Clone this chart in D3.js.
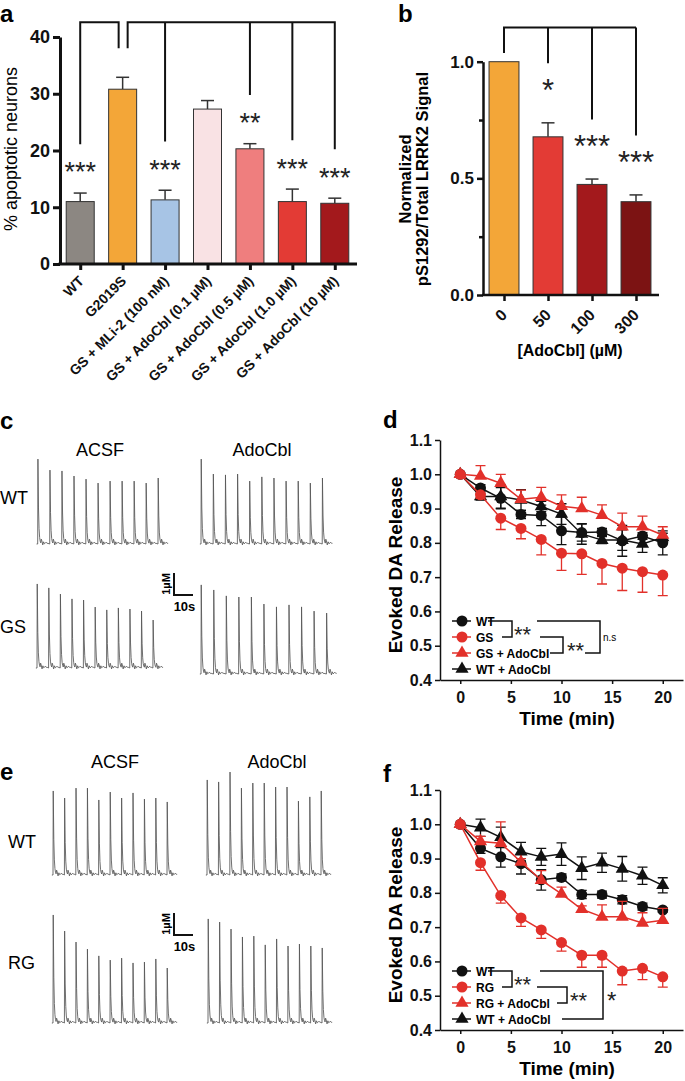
<!DOCTYPE html>
<html lang="en">
<head>
  <meta charset="UTF-8">
  <title>AdoCbl LRRK2 figure</title>
  <script src="https://d3js.org/d3.v7.min.js"></script>
  <style>
    body { margin: 0; background: #fff; }
    svg { font-family: "Liberation Sans", Arial, sans-serif; }
    .axis path, .axis line { stroke: #111; }
    .axis text { font-weight: bold; fill: #111; }
  </style>
</head>
<body>
<svg id="fig" width="685" height="1081"></svg>
<script>
  // ---------- data ----------
  // panel a
  const catsA = ["WT", "G2019S", "GS + MLi-2 (100 nM)", "GS + AdoCbl (0.1 µM)",
                 "GS + AdoCbl (0.5 µM)", "GS + AdoCbl (1.0 µM)", "GS + AdoCbl (10 µM)"];
  const meanA = [11.0, 30.8, 11.3, 27.3, 20.3, 11.0, 10.7];
  const semA  = [1.5, 2.1, 1.7, 1.5, 0.9, 2.2, 0.9];
  const starsA = ["***", "", "***", "", "**", "***", "***"];
  const ticksA = [0, 10, 20, 30, 40];
  const colorsA = ["#8c8782", "#f3a638", "#a7c4e5", "#f9e2e4", "#ef7e7e", "#e33b35", "#a3191c"];

  // panel b
  const catsB = ["0", "50", "100", "300"];
  const meanB = [1.0, 0.678, 0.474, 0.40];
  const semB  = [0, 0.06, 0.023, 0.029];
  const starsB = ["", "*", "***", "***"];
  const ticksB = [0, 0.5, 1.0];
  const minorB = [0.25, 0.75];
  const colorsB = ["#f3a638", "#e33b35", "#a3191c", "#7c1313"];

  // panels c / e : peak amplitudes (µM) of the evoked release traces
  const cWT_acsf = [3.86, 3.36, 3.32, 3.09, 2.95, 2.77, 2.86, 2.86, 2.86, 2.77, 3.0];
  const cWT_ado  = [3.86, 3.18, 3.14, 3.18, 2.86, 3.05, 3.0, 2.86, 2.86, 2.77, 3.0];
  const cGS_acsf = [3.82, 3.64, 3.36, 3.14, 3.09, 2.77, 2.64, 2.73, 2.68, 2.59, 2.18];
  const cGS_ado  = [4.05, 3.82, 3.55, 3.5, 3.5, 3.18, 3.05, 3.14, 3.05, 2.86, 2.77];
  const eWT_acsf = [3.82, 3.5, 3.95, 3.95, 3.41, 3.77, 3.5, 3.73, 3.45, 3.5, 3.32];
  const eWT_ado  = [4.32, 4.23, 4.68, 3.95, 4.18, 4.18, 4.0, 4.0, 3.36, 3.55, 3.82];
  const eRG_acsf = [4.91, 4.18, 3.68, 3.36, 3.05, 2.86, 2.95, 2.73, 2.77, 2.91, 2.5];
  const eRG_ado  = [4.73, 4.59, 4.27, 3.91, 3.95, 3.55, 3.82, 3.5, 3.59, 3.5, 3.41];

  // panels d / f
  const timeMin = [0, 2, 4, 6, 8, 10, 12, 14, 16, 18, 20];
  const timeTicks = [0, 5, 10, 15, 20];
  const releaseTicks = [0.4, 0.5, 0.6, 0.7, 0.8, 0.9, 1.0, 1.1];

  const dWT       = [1.0, 0.96, 0.93, 0.883, 0.88, 0.835, 0.83, 0.832, 0.806, 0.82, 0.80];
  const dWTerr    = [0, 0.01, 0.031, 0.012, 0.03, 0.04, 0.025, 0.01, 0.045, 0.01, 0.035];
  const dGS       = [1.0, 0.94, 0.872, 0.842, 0.81, 0.77, 0.768, 0.74, 0.726, 0.716, 0.706];
  const dGSerr    = [0, 0.01, 0.033, 0.03, 0.045, 0.05, 0.06, 0.06, 0.065, 0.06, 0.06];
  const dGSAdo    = [1.0, 0.995, 0.974, 0.927, 0.933, 0.907, 0.90, 0.881, 0.847, 0.847, 0.823];
  const dGSAdoErr = [0, 0.03, 0.026, 0.027, 0.029, 0.033, 0.033, 0.03, 0.04, 0.031, 0.024];
  const dWTAdo    = [1.0, 0.935, 0.935, 0.925, 0.906, 0.884, 0.826, 0.808, 0.808, 0.797, 0.816];
  const dWTAdoErr = [0, 0.01, 0.034, 0.03, 0.015, 0.03, 0.03, 0.01, 0.03, 0.025, 0.012];

  const fWT       = [1.0, 0.93, 0.905, 0.885, 0.838, 0.845, 0.795, 0.795, 0.78, 0.76, 0.75];
  const fWTerr    = [0, 0.015, 0.03, 0.03, 0.03, 0.01, 0.012, 0.01, 0.012, 0.01, 0.006];
  const fRG       = [1.0, 0.888, 0.792, 0.727, 0.692, 0.655, 0.618, 0.618, 0.572, 0.58, 0.555];
  const fRGerr    = [0, 0.022, 0.022, 0.025, 0.025, 0.025, 0.035, 0.035, 0.04, 0.033, 0.03];
  const fRGAdo    = [1.0, 0.95, 0.945, 0.89, 0.837, 0.797, 0.752, 0.73, 0.73, 0.712, 0.72];
  const fRGAdoErr = [0, 0.015, 0.062, 0.01, 0.028, 0.02, 0.01, 0.035, 0.045, 0.03, 0.035];
  const fWTAdo    = [1.0, 0.99, 0.962, 0.92, 0.905, 0.913, 0.872, 0.888, 0.87, 0.85, 0.822];
  const fWTAdoErr = [0, 0.025, 0.03, 0.027, 0.025, 0.033, 0.033, 0.028, 0.036, 0.025, 0.022];

  const RED = "#e2302a", BLACK = "#111";
  const svg = d3.select("#fig");

  // star text helper: y is the visual centre of the asterisks
  function stars(g, x, y, str, size, anchor) {
    g.append("text").attr("x", x).attr("y", y + size * 0.58)
     .attr("text-anchor", anchor || "middle").attr("font-size", size)
     .attr("fill", "#222").text(str);
  }

  function letter(x, y, s) {
    svg.append("text").attr("x", x).attr("y", y).attr("font-size", 24)
       .attr("font-weight", "bold").text(s);
  }

  // ---------- panel a ----------
  const a = svg.append("g");
  const yA = d3.scaleLinear().domain([0, 40]).range([264, 37]);
  const xA = d3.scalePoint().domain(catsA).range([59, 356]).padding(0.5);
  const bwA = xA.step() * 0.66;

  a.selectAll("line.err").data(catsA).join("line")
   .attr("x1", d => xA(d)).attr("x2", d => xA(d))
   .attr("y1", (d, i) => yA(meanA[i])).attr("y2", (d, i) => yA(meanA[i] + semA[i]))
   .attr("stroke", "#333").attr("stroke-width", 1.5);
  a.selectAll("line.cap").data(catsA).join("line")
   .attr("x1", d => xA(d) - 6.5).attr("x2", d => xA(d) + 6.5)
   .attr("y1", (d, i) => yA(meanA[i] + semA[i])).attr("y2", (d, i) => yA(meanA[i] + semA[i]))
   .attr("stroke", "#333").attr("stroke-width", 1.5);
  a.selectAll("rect").data(catsA).join("rect")
   .attr("x", d => xA(d) - bwA / 2).attr("y", (d, i) => yA(meanA[i]))
   .attr("width", bwA).attr("height", (d, i) => yA(0) - yA(meanA[i]))
   .attr("fill", (d, i) => colorsA[i]).attr("stroke", "#333").attr("stroke-width", 1);

  const axA = a.append("g").attr("class", "axis").attr("transform", "translate(60,0)")
    .call(d3.axisLeft(yA).tickValues(ticksA).tickSize(7).tickSizeOuter(0).tickPadding(3));
  axA.selectAll("path,line").attr("stroke-width", 3);
  axA.selectAll("text").attr("font-size", 18);

  const axAx = a.append("g").attr("class", "axis").attr("transform", "translate(0,264)")
    .call(d3.axisBottom(xA).tickSize(6).tickSizeOuter(0));
  axAx.select("path").attr("d", "M58.5,0H357");
  axAx.selectAll("path,line").attr("stroke-width", 3);
  axAx.selectAll("text").attr("font-size", 14).attr("text-anchor", "end")
    .attr("x", 0).attr("y", 0).attr("dy", 0)
    .attr("transform", "translate(4,18) rotate(-45)");

  a.append("text").attr("transform", "translate(17,149) rotate(-90)")
   .attr("text-anchor", "middle").attr("font-size", 18).text("% apoptotic neurons");

  // significance stars and comparison brackets against G2019S
  const topA = 42.6, gx = xA(catsA[1]);
  catsA.forEach((c, i) => {
    if (!starsA[i]) return;
    const sy = meanA[i] + semA[i] + 4.8;
    stars(a, xA(c), yA(sy), starsA[i], 27);
  });
  const dropA = i => yA(meanA[i] + semA[i] + 4.8 + 3.8);
  let pa = `M${xA(catsA[0])},${dropA(0)}V${yA(topA)}H${gx - 4}V${yA(38)}`;
  pa += `M${gx + 5},${yA(38)}V${yA(topA)}H${xA(catsA[6])}V${dropA(6)}`;
  [2, 4, 5].forEach(i => { pa += `M${xA(catsA[i])},${yA(topA)}V${dropA(i)}`; });
  a.append("path").attr("d", pa).attr("fill", "none").attr("stroke", "#111").attr("stroke-width", 2);
  letter(0, 22, "a");

  // ---------- panel b ----------
  const b = svg.append("g");
  const yB = d3.scaleLinear().domain([0, 1]).range([295, 61.7]);
  const xB = d3.scalePoint().domain(catsB).range([482, 658]).padding(0.5);
  const bwB = xB.step() * 0.68;

  b.selectAll("line.err").data(catsB.filter((d, i) => semB[i] > 0)).join("line")
   .attr("x1", d => xB(d)).attr("x2", d => xB(d))
   .attr("y1", d => yB(meanB[catsB.indexOf(d)]))
   .attr("y2", d => yB(meanB[catsB.indexOf(d)] + semB[catsB.indexOf(d)]))
   .attr("stroke", "#333").attr("stroke-width", 1.5);
  b.selectAll("line.cap").data(catsB.filter((d, i) => semB[i] > 0)).join("line")
   .attr("x1", d => xB(d) - 6.5).attr("x2", d => xB(d) + 6.5)
   .attr("y1", d => yB(meanB[catsB.indexOf(d)] + semB[catsB.indexOf(d)]))
   .attr("y2", d => yB(meanB[catsB.indexOf(d)] + semB[catsB.indexOf(d)]))
   .attr("stroke", "#333").attr("stroke-width", 1.5);
  b.selectAll("rect").data(catsB).join("rect")
   .attr("x", d => xB(d) - bwB / 2).attr("y", (d, i) => yB(meanB[i]))
   .attr("width", bwB).attr("height", (d, i) => yB(0) - yB(meanB[i]))
   .attr("fill", (d, i) => colorsB[i]).attr("stroke", "#333").attr("stroke-width", 1);

  const axB = b.append("g").attr("class", "axis").attr("transform", "translate(483,0)")
    .call(d3.axisLeft(yB).tickValues(ticksB).tickFormat(d3.format(".1f"))
      .tickSize(6).tickSizeOuter(0).tickPadding(3));
  axB.selectAll("path,line").attr("stroke-width", 2.5);
  axB.selectAll("text").attr("font-size", 17);
  const axBm = b.append("g").attr("class", "axis").attr("transform", "translate(483,0)")
    .call(d3.axisLeft(yB).tickValues(minorB).tickFormat("").tickSize(4).tickSizeOuter(0));
  axBm.select("path").remove();
  axBm.selectAll("line").attr("stroke-width", 2.5);

  const axBx = b.append("g").attr("class", "axis").attr("transform", "translate(0,295)")
    .call(d3.axisBottom(xB).tickSize(6).tickSizeOuter(0));
  axBx.select("path").attr("d", "M482,0H659");
  axBx.selectAll("path,line").attr("stroke-width", 2.5);
  axBx.selectAll("text").attr("font-size", 16).attr("text-anchor", "end")
    .attr("x", 0).attr("y", 0).attr("dy", 0)
    .attr("transform", "translate(3.5,21) rotate(-45)");

  b.append("text").attr("x", 570).attr("y", 356).attr("text-anchor", "middle")
   .attr("font-size", 16).attr("font-weight", "bold").text("[AdoCbl] (µM)");
  const ylb = b.append("text").attr("transform", "translate(411,179) rotate(-90)")
   .attr("text-anchor", "middle").attr("font-size", 16.5).attr("font-weight", "bold");
  ylb.append("tspan").attr("x", 0).attr("dy", 0).text("Normalized");
  ylb.append("tspan").attr("x", 0).attr("dy", 17).text("pS1292/Total LRRK2 Signal");

  const topB = 1.147;
  catsB.forEach((c, i) => {
    if (!starsB[i]) return;
    stars(b, xB(c), yB(meanB[i] + semB[i] + 0.17), starsB[i], 31);
  });
  let pb = `M${xB(catsB[0])},${yB(1.037)}V${yB(topB)}H${xB(catsB[3])}`;
  [1, 2, 3].forEach(i => { pb += `M${xB(catsB[i])},${yB(topB)}V${yB(meanB[i] + semB[i] + 0.17 + 0.085)}`; });
  b.append("path").attr("d", pb).attr("fill", "none").attr("stroke", "#111").attr("stroke-width", 2);
  letter(398, 22, "b");

  // ---------- panels c / e : amperometric traces ----------
  const tX = d3.scaleLinear().domain([0, 10]).range([0, 19]);   // seconds -> px (10 s bar)
  const aY = d3.scaleLinear().domain([0, 1]).range([0, -22]);   // µM -> px (1 µM bar)
  const wiggle = [0.06, -0.04, 0.1, -0.07, 0.04, 0.08, -0.05, 0.03]; // baseline noise template

  function tracePoints(peaks, stim) {
    const pts = [[-0.6, 0]];
    peaks.forEach((p, i) => {
      const t0 = i * stim;
      pts.push([t0, 0], [t0 + 0.12, p]);
      for (let k = 1; k <= 5; k++) pts.push([t0 + 0.12 + k * 0.3, p * Math.exp(-k * 0.3 / 0.35)]);
      pts.push([t0 + 1.9, 0.22]);
      wiggle.forEach((w, j) => pts.push([t0 + 2.2 + j * 0.45, w + (j % 3 === 0 ? 0.08 : 0)]));
    });
    return pts;
  }
  const traceLine = d3.line().x(d => tX(d[0])).y(d => aY(d[1]));

  function trace(x0, y0, peaks, stim) {
    svg.append("path").attr("transform", `translate(${x0},${y0})`)
       .attr("d", traceLine(tracePoints(peaks, stim)))
       .attr("fill", "none").attr("stroke", "#555").attr("stroke-width", 0.85);
  }
  function scaleBar(x, y) {
    svg.append("path").attr("transform", `translate(${x},${y})`)
       .attr("d", `M0,${aY(1)}V0H${tX(10)}`).attr("fill", "none")
       .attr("stroke", "#111").attr("stroke-width", 2);
    svg.append("text").attr("transform", `translate(${x - 4},${y + aY(0.5)}) rotate(-90)`)
       .attr("text-anchor", "middle").attr("font-size", 11).attr("font-weight", "bold").text("1µM");
    svg.append("text").attr("x", x + tX(5) + 1).attr("y", y + 16).attr("text-anchor", "middle")
       .attr("font-size", 13).attr("font-weight", "bold").text("10s");
  }
  function label(x, y, s, anchor) {
    svg.append("text").attr("x", x).attr("y", y).attr("font-size", 18)
       .attr("text-anchor", anchor || "start").text(s);
  }

  // panel c
  letter(0, 429, "c");
  label(100, 456, "ACSF", "middle");
  label(262, 456, "AdoCbl", "middle");
  label(0, 504, "WT");
  label(0, 633, "GS");
  trace(37.7, 544, cWT_acsf, 6.33);
  trace(201, 544, cWT_ado, 6.38);
  trace(37, 668, cGS_acsf, 6.1);
  trace(201, 674, cGS_ado, 6.6);
  scaleBar(174, 595);

  // panel e
  letter(0, 780, "e");
  label(115, 768, "ACSF", "middle");
  label(277, 768, "AdoCbl", "middle");
  label(8, 848, "WT");
  label(8, 969, "RG");
  trace(53, 875, eWT_acsf, 6.0);
  trace(207, 875, eWT_ado, 6.0);
  trace(53, 1023, eRG_acsf, 6.0);
  trace(208, 1023, eRG_ado, 6.0);
  scaleBar(174, 935);

  // ---------- panels d / f : release over time ----------
  function timePanel(top, series, names, brackets) {
    const g = svg.append("g");
    const x = d3.scaleLinear().domain([-2, 22]).range([440, 683]);
    const y = d3.scaleLinear().domain([0.4, 1.1]).range([top + 240, top]);

    const ax = g.append("g").attr("class", "axis").attr("transform", "translate(440,0)")
      .call(d3.axisLeft(y).tickValues(releaseTicks).tickFormat(d3.format(".1f"))
        .tickSize(5).tickSizeOuter(0).tickPadding(3));
    ax.selectAll("path,line").attr("stroke-width", 1.5).attr("stroke", "#333");
    ax.selectAll("text").attr("font-size", 16);
    const axx = g.append("g").attr("class", "axis").attr("transform", `translate(0,${top + 240})`)
      .call(d3.axisBottom(x).tickValues(timeTicks).tickSize(4).tickSizeOuter(0).tickPadding(8));
    axx.selectAll("path,line").attr("stroke-width", 1.5).attr("stroke", "#333");
    axx.selectAll("text").attr("font-size", 16);

    g.append("text").attr("x", 567).attr("y", top + 285).attr("text-anchor", "middle")
     .attr("font-size", 19).attr("font-weight", "bold").text("Time (min)");
    g.append("text").attr("transform", `translate(402,${top + 125}) rotate(-90)`)
     .attr("text-anchor", "middle").attr("font-size", 19).attr("font-weight", "bold")
     .text("Evoked DA Release");

    const line = d3.line().x((d, i) => x(timeMin[i])).y(d => y(d));
    series.forEach(s => {
      const sg = g.append("g");
      // error bars
      s.values.forEach((v, i) => {
        const e = s.err[i];
        if (!e) return;
        const hi = s.dir === "down" ? v : v + e;
        const lo = s.dir === "up" ? v : v - e;
        const xx = x(timeMin[i]);
        sg.append("path")
          .attr("d", `M${xx},${y(lo)}V${y(hi)}` +
                     (s.dir !== "down" ? `M${xx - 5},${y(hi)}H${xx + 5}` : "") +
                     (s.dir !== "up" ? `M${xx - 5},${y(lo)}H${xx + 5}` : ""))
          .attr("stroke", s.color).attr("stroke-width", 1.3).attr("fill", "none");
      });
      sg.append("path").attr("d", line(s.values)).attr("fill", "none")
        .attr("stroke", s.color).attr("stroke-width", 1.5);
      const sym = d3.symbol(s.shape === "circle" ? d3.symbolCircle : d3.symbolTriangle,
                            s.shape === "circle" ? 95 : 75);
      sg.selectAll("path.m").data(s.values).join("path").attr("class", "m")
        .attr("transform", (d, i) => `translate(${x(timeMin[i])},${y(d)})`)
        .attr("d", sym).attr("fill", s.color);
    });

    // legend
    const ly = top + 181;
    const rows = [0, 1, 2, 3].map(i => ly + i * 16);
    series.slice().sort((p, q) => p.legend - q.legend).forEach((s, i) => {
      g.append("line").attr("x1", 452).attr("x2", 471).attr("y1", rows[i]).attr("y2", rows[i])
       .attr("stroke", s.color).attr("stroke-width", 1.5);
      g.append("path").attr("transform", `translate(462,${rows[i]})`)
       .attr("d", d3.symbol(s.shape === "circle" ? d3.symbolCircle : d3.symbolTriangle,
                            s.shape === "circle" ? 95 : 75))
       .attr("fill", s.color);
      g.append("text").attr("x", 476).attr("y", rows[i] + 4.5).attr("font-size", 12)
       .attr("font-weight", "bold").text(names[i]);
    });
    brackets(g, rows);
  }

  function lineSeries(values, err, color, shape, dir, legend) {
    return { values, err, color, shape, dir, legend };
  }

  // panel d
  letter(383, 428, "d");
  timePanel(440, [
    lineSeries(dWTAdo, dWTAdoErr, BLACK, "triangle", "both", 3),
    lineSeries(dWT, dWTerr, BLACK, "circle", "both", 0),
    lineSeries(dGSAdo, dGSAdoErr, RED, "triangle", "up", 2),
    lineSeries(dGS, dGSerr, RED, "circle", "down", 1)
  ], ["WT", "GS", "GS + AdoCbl", "WT + AdoCbl"], (g, r) => {
    const p = `M488,${r[0]}H512V${r[1]}H502` +
              `M537,${r[0]}H600V${r[2]}H585` +
              `M540,${r[1]}H563V${r[2]}H550`;
    g.append("path").attr("d", p).attr("fill", "none").attr("stroke", "#111").attr("stroke-width", 1.5);
    stars(g, 514, (r[0] + r[1]) / 2, "**", 22, "start");
    stars(g, 567, (r[1] + r[2]) / 2, "**", 22, "start");
    g.append("text").attr("x", 603).attr("y", (r[0] + r[2]) / 2 + 3.5)
     .attr("font-size", 10).text("n.s");
  });

  // panel f
  letter(383, 782, "f");
  timePanel(790, [
    lineSeries(fWTAdo, fWTAdoErr, BLACK, "triangle", "both", 3),
    lineSeries(fWT, fWTerr, BLACK, "circle", "both", 0),
    lineSeries(fRGAdo, fRGAdoErr, RED, "triangle", "up", 2),
    lineSeries(fRG, fRGerr, RED, "circle", "down", 1)
  ], ["WT", "RG", "RG + AdoCbl", "WT + AdoCbl"], (g, r) => {
    const p = `M488,${r[0]}H512V${r[1]}H502` +
              `M540,${r[0]}H603V${r[3]}H562` +
              `M537,${r[1]}H567V${r[2]}H557`;
    g.append("path").attr("d", p).attr("fill", "none").attr("stroke", "#111").attr("stroke-width", 1.5);
    stars(g, 514, (r[0] + r[1]) / 2, "**", 22, "start");
    stars(g, 570, (r[1] + r[2]) / 2, "**", 22, "start");
    stars(g, 607, (r[0] + r[3]) / 2, "*", 24, "start");
  });
</script>
</body>
</html>
